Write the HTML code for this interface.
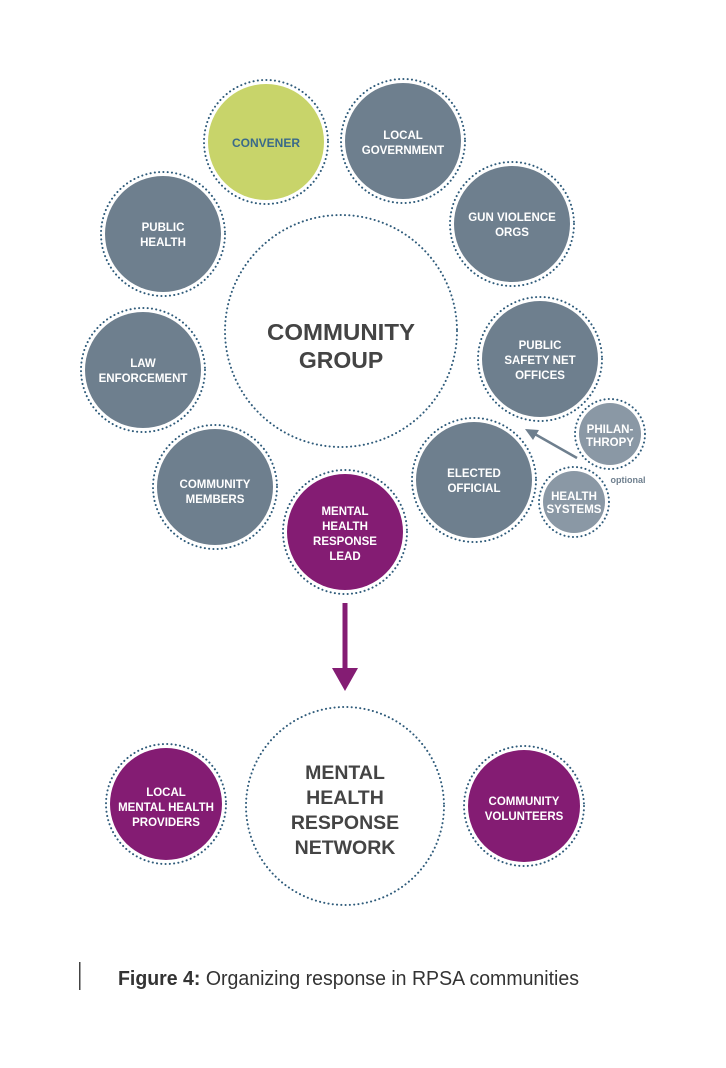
<!DOCTYPE html>
<html><head><meta charset="utf-8"><style>
html,body{margin:0;padding:0;background:#fff;}
svg{display:block;}
text{font-family:"Liberation Sans",sans-serif;font-weight:bold;text-anchor:middle;}
.w{fill:#fff;font-size:11.5px;}
.ring{fill:none;stroke:#2f5b7a;stroke-width:2;stroke-dasharray:0.1 4.2;stroke-linecap:round;}
.g{fill:#6e7f8e;}
.p{fill:#841c73;}
.l{fill:#8a98a5;}
</style></head><body>
<svg width="726" height="1068" viewBox="0 0 726 1068" xmlns="http://www.w3.org/2000/svg">
<!-- community group ring -->
<circle cx="341" cy="331" r="116" class="ring"/>
<text x="341" y="340" font-size="23" fill="#444" textLength="148" lengthAdjust="spacingAndGlyphs">COMMUNITY</text>
<text x="341" y="368" font-size="23" fill="#444">GROUP</text>

<!-- convener -->
<circle cx="266" cy="142" r="62" class="ring"/>
<circle cx="266" cy="142" r="58" fill="#c8d46a"/>
<text x="266" y="147" font-size="12" fill="#3a6a8a">CONVENER</text>

<circle cx="403" cy="141" r="62" class="ring"/>
<circle cx="403" cy="141" r="58" class="g"/>
<text x="403" y="139" class="w">LOCAL</text><text x="403" y="154" class="w">GOVERNMENT</text>

<circle cx="163" cy="234" r="62" class="ring"/>
<circle cx="163" cy="234" r="58" class="g"/>
<text x="163" y="231" class="w">PUBLIC</text><text x="163" y="246" class="w">HEALTH</text>

<circle cx="512" cy="224" r="62" class="ring"/>
<circle cx="512" cy="224" r="58" class="g"/>
<text x="512" y="221" class="w">GUN VIOLENCE</text><text x="512" y="236" class="w">ORGS</text>

<circle cx="143" cy="370" r="62" class="ring"/>
<circle cx="143" cy="370" r="58" class="g"/>
<text x="143" y="367" class="w">LAW</text><text x="143" y="382" class="w">ENFORCEMENT</text>

<circle cx="540" cy="359" r="62" class="ring"/>
<circle cx="540" cy="359" r="58" class="g"/>
<text x="540" y="349" class="w">PUBLIC</text><text x="540" y="364" class="w">SAFETY NET</text><text x="540" y="379" class="w">OFFICES</text>

<circle cx="215" cy="487" r="62" class="ring"/>
<circle cx="215" cy="487" r="58" class="g"/>
<text x="215" y="488" class="w">COMMUNITY</text><text x="215" y="503" class="w">MEMBERS</text>

<circle cx="474" cy="480" r="62" class="ring"/>
<circle cx="474" cy="480" r="58" class="g"/>
<text x="474" y="477" class="w">ELECTED</text><text x="474" y="492" class="w">OFFICIAL</text>

<circle cx="345" cy="532" r="62" class="ring"/>
<circle cx="345" cy="532" r="58" class="p"/>
<text x="345" y="515" class="w">MENTAL</text><text x="345" y="530" class="w">HEALTH</text><text x="345" y="545" class="w">RESPONSE</text><text x="345" y="560" class="w">LEAD</text>

<!-- optional -->
<line x1="577" y1="458" x2="533" y2="433" stroke="#6e7f8e" stroke-width="2.5"/>
<polygon points="525,429 539,430 533,440" fill="#6e7f8e"/>
<circle cx="610" cy="434" r="35" class="ring"/>
<circle cx="610" cy="434" r="31" class="l"/>
<text x="610" y="433" class="w" font-size="10.5">PHILAN-</text><text x="610" y="446" class="w" font-size="10.5">THROPY</text>
<circle cx="574" cy="502" r="35" class="ring"/>
<circle cx="574" cy="502" r="31" class="l"/>
<text x="574" y="500" class="w" font-size="10.5">HEALTH</text><text x="574" y="513" class="w" font-size="10.5">SYSTEMS</text>
<text x="628" y="483" font-size="9" fill="#6e7f8e">optional</text>

<!-- arrow -->
<rect x="342.5" y="603" width="5" height="68" fill="#841c73"/>
<polygon points="332,668 358,668 345,691" fill="#841c73"/>

<!-- network -->
<circle cx="345" cy="806" r="99" class="ring"/>
<text x="345" y="779" font-size="19.5" fill="#444">MENTAL</text>
<text x="345" y="804" font-size="19.5" fill="#444">HEALTH</text>
<text x="345" y="829" font-size="19.5" fill="#444">RESPONSE</text>
<text x="345" y="854" font-size="19.5" fill="#444">NETWORK</text>

<circle cx="166" cy="804" r="60" class="ring"/>
<circle cx="166" cy="804" r="56" class="p"/>
<text x="166" y="796" class="w">LOCAL</text><text x="166" y="811" class="w">MENTAL HEALTH</text><text x="166" y="826" class="w">PROVIDERS</text>

<circle cx="524" cy="806" r="60" class="ring"/>
<circle cx="524" cy="806" r="56" class="p"/>
<text x="524" y="805" class="w">COMMUNITY</text><text x="524" y="820" class="w">VOLUNTEERS</text>

<!-- caption -->
<rect x="79" y="962" width="1.5" height="28" fill="#444"/>
<text x="118" y="985" font-size="20" style="text-anchor:start;font-weight:normal" fill="#333" textLength="461" lengthAdjust="spacingAndGlyphs"><tspan font-weight="bold">Figure 4:</tspan> Organizing response in RPSA communities</text>
</svg>
</body></html>
